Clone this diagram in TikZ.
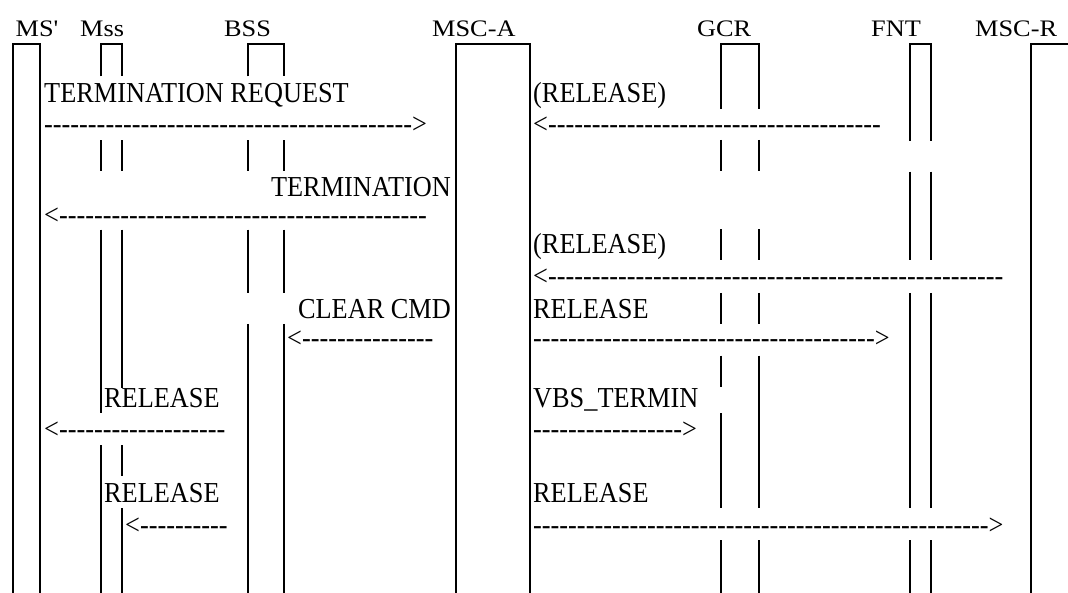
\documentclass[tikz,border=0pt]{standalone}
\usepackage{fontspec}
\usepackage{graphicx}
\newfontfamily\msgfont{Liberation Serif}[Ligatures=TeXOff]
\ExplSyntaxOn
\cs_new:Npn \dashrep #1 { \prg_replicate:nn {#1} {-} }
\ExplSyntaxOff
\newcommand{\hs}[1]{\scalebox{1}[0.9]{#1}}
\newcommand{\ms}[1]{\scalebox{1}[1.1]{#1}}
\tikzset{
  life/.style={line width=2pt, line join=miter, line cap=butt},
  hdr/.style={inner sep=0pt, anchor=base west, font=\msgfont\fontsize{26.3pt}{30pt}\selectfont},
  msg/.style={inner sep=0pt, anchor=base west, font=\msgfont\fontsize{26.3pt}{30pt}\selectfont},
}
\begin{document}
\begin{tikzpicture}[x=1pt,y=-1pt]
\useasboundingbox (0,0) rectangle (1068,593);
% headers
\node[hdr] (hMS) at (15.5,36.5) {\hs{MS'}};
\node[hdr] (hMss) at (80,36.5) {\hs{Mss}};
\node[hdr] (hBSS) at (224,36.5) {\hs{BSS}};
\node[hdr] (hMSCA) at (432,36.5) {\hs{MSC-A}};
\node[hdr] (hGCR) at (697,36.5) {\hs{GCR}};
\node[hdr] (hFNT) at (871,36.5) {\hs{FNT}};
\node[hdr] (hMSCR) at (975,36.5) {\hs{MSC-R}};
% continuous lifelines
\draw[life] (12.5,594) -- (12.5,44) -- (39.5,44) -- (39.5,594);
\draw[life] (456,594) -- (456,44) -- (530,44) -- (530,594);
\draw[life] (1031,594) -- (1031,44) -- (1070,44);
% Mss
\draw[life] (101,76.5) -- (101,44) -- (121.6,44) -- (121.6,76.5);
\draw[life] (101,140.5) -- (101,171.5) (121.6,140.5) -- (121.6,171.5);
\draw[life] (101,229.6) -- (101,413.4) (121.6,229.6) -- (121.6,388);
\draw[life] (101,445) -- (101,594) (121.6,445) -- (121.6,476) (121.6,508) -- (121.6,594);
% BSS
\draw[life] (248,76.5) -- (248,44) -- (284,44) -- (284,76.5);
\draw[life] (248,140.5) -- (248,171.5) (284,140.5) -- (284,171.5);
\draw[life] (248,229.6) -- (248,292.6) (284,229.6) -- (284,292.6);
\draw[life] (248,324) -- (248,594) (284,324) -- (284,594);
% GCR
\draw[life] (721,109) -- (721,44) -- (759,44) -- (759,109);
\draw[life] (721,140) -- (721,171) (759,140) -- (759,171);
\draw[life] (721,229.5) -- (721,260.4) (759,229.5) -- (759,260.4);
\draw[life] (721,293) -- (721,324) (759,293) -- (759,324);
\draw[life] (721,355.7) -- (721,387.3) (759,355.7) -- (759,507.7);
\draw[life] (721,413) -- (721,507.7);
\draw[life] (721,540) -- (721,594) (759,540) -- (759,594);
% FNT
\draw[life] (910,140.7) -- (910,44) -- (931,44) -- (931,140.7);
\draw[life] (910,171.6) -- (910,260.4) (931,171.6) -- (931,260.4);
\draw[life] (910,293) -- (910,507.7) (931,293) -- (931,507.7);
\draw[life] (910,540) -- (910,594) (931,540) -- (931,594);
% messages
\node[msg] (m1) at (44,102.6) {\ms{TERMINATION REQUEST}};
\node[msg] (a1) at (44,134) {\ms{\dashrep{42}>}};
\node[msg] (m2) at (533,102.8) {\ms{(RELEASE)}};
\node[msg] (a2) at (533,134) {\ms{<\dashrep{38}}};
\node[msg,anchor=base east] (m3) at (451,197) {\ms{TERMINATION}};
\node[msg] (a3) at (44,224.5) {\ms{<\dashrep{42}}};
\node[msg] (m4) at (533,253.5) {\ms{(RELEASE)}};
\node[msg] (a4) at (533,286) {\ms{<\dashrep{52}}};
\node[msg,anchor=base east] (m5) at (451,318.5) {\ms{CLEAR CMD}};
\node[msg] (a5) at (287,347.8) {\ms{<\dashrep{15}}};
\node[msg] (m6) at (533,318.5) {\ms{RELEASE}};
\node[msg] (a6) at (533,347.8) {\ms{\dashrep{39}>}};
\node[msg] (m7) at (104,407) {\ms{RELEASE}};
\node[msg] (a7) at (44,438) {\ms{<\dashrep{19}}};
\node[msg] (m8) at (533,407) {\ms{VBS\_TERMIN}};
\node[msg] (a8) at (533,438) {\ms{\dashrep{17}>}};
\node[msg] (m9) at (104,502) {\ms{RELEASE}};
\node[msg] (a9) at (125,534.5) {\ms{<\dashrep{10}}};
\node[msg] (m10) at (533,502) {\ms{RELEASE}};
\node[msg] (a10) at (533,534.5) {\ms{\dashrep{52}>}};
\end{tikzpicture}
\end{document}
